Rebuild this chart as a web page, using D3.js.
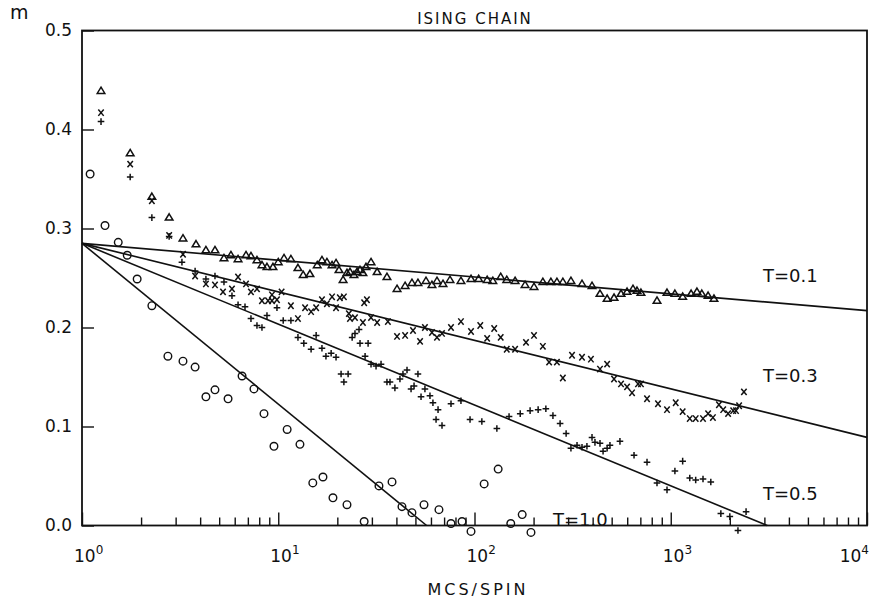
<!DOCTYPE html>
<html>
<head>
<meta charset="utf-8">
<script src="https://cdn.jsdelivr.net/npm/d3@7"></script>
<style>
  body { margin: 0; background: #fff; }
  text { font-family: "DejaVu Sans", "Liberation Sans", sans-serif; fill: #111; }
</style>
</head>
<body>
<svg id="chart"></svg>
<script>
// MCS/spin vs magnetisation m, one array per temperature
var triT01 = [
  [1.25,0.439],[1.76,0.376],[2.27,0.332],[2.78,0.311],[3.27,0.290],[3.81,0.284],[4.28,0.278],[4.76,0.278],
  [5.29,0.270],[5.74,0.273],[6.24,0.269],[6.85,0.273],[7.26,0.272],[7.79,0.268],[8.26,0.263],[8.76,0.261],
  [9.40,0.261],[10.0,0.266],[10.7,0.270],[11.6,0.269],[12.6,0.260],[13.4,0.253],[14.5,0.254],[15.8,0.263],
  [16.7,0.268],[17.7,0.266],[18.8,0.263],[19.7,0.265],[20.4,0.258],[21.4,0.248],[22.4,0.255],[23.2,0.256],
  [24.3,0.253],[25.2,0.256],[26.1,0.258],[27.0,0.255],[28.0,0.261],[29.7,0.266],[31.9,0.256],[35.8,0.251],
  [40.3,0.239],[44.3,0.242],[48.0,0.245],[51.5,0.245],[56.6,0.247],[60.7,0.243],[64.4,0.247],[69.1,0.244],
  [75.0,0.248],[85.3,0.247],[96.0,0.249],[105,0.249],[116,0.248],[124,0.247],[136,0.251],[146,0.248],
  [161,0.247],[181,0.243],[201,0.241],[223,0.246],[245,0.246],[263,0.246],[282,0.246],[310,0.247],
  [353,0.244],[397,0.242],[436,0.234],[474,0.229],[514,0.230],[558,0.234],[599,0.236],[642,0.239],
  [673,0.237],[705,0.235],[851,0.227],[957,0.235],[1050,0.234],[1150,0.231],[1270,0.234],[1360,0.236],
  [1440,0.234],[1550,0.232],[1660,0.229]
]

var crossT03 = [
  [1.25,0.417],[1.76,0.365],[2.27,0.328],[2.78,0.293],[3.27,0.274],[3.77,0.252],[4.28,0.244],[4.76,0.243],
  [5.23,0.236],[5.81,0.239],[6.24,0.251],[6.85,0.244],[7.26,0.236],[7.79,0.239],[8.26,0.227],[8.87,0.227],
  [9.29,0.227],[9.29,0.233],[9.85,0.228],[10.4,0.236],[11.6,0.222],[12.6,0.209],[13.7,0.220],[14.7,0.216],
  [15.6,0.220],[16.7,0.228],[17.7,0.224],[18.8,0.231],[19.7,0.220],[20.6,0.230],[21.6,0.231],[22.9,0.214],
  [23.2,0.209],[24.6,0.210],[27.0,0.205],[27.4,0.225],[28.3,0.228],[29.7,0.210],[31.9,0.205],[36.2,0.206],
  [40.3,0.191],[44.3,0.192],[48.6,0.197],[52.8,0.186],[55.9,0.200],[60.7,0.195],[64.4,0.190],[68.3,0.194],
  [75.9,0.200],[85.3,0.206],[96.0,0.196],[107,0.202],[116,0.189],[126,0.199],[136,0.190],[146,0.178],
  [161,0.178],[183,0.185],[201,0.192],[223,0.181],[240,0.165],[263,0.165],[282,0.149],[314,0.172],
  [353,0.170],[392,0.168],[436,0.158],[474,0.163],[514,0.148],[558,0.143],[599,0.140],[635,0.134],
  [681,0.143],[705,0.143],[757,0.128],[861,0.123],[957,0.117],[1060,0.124],[1150,0.115],[1250,0.108],
  [1340,0.108],[1460,0.108],[1550,0.113],[1640,0.109],[1760,0.122],[1850,0.117],[1960,0.113],[2080,0.116],
  [2150,0.116],[2230,0.121],[2360,0.135]
]

var plusT05 = [
  [1.25,0.408],[1.76,0.352],[2.27,0.311],[2.78,0.292],[3.23,0.266],[3.77,0.257],[4.28,0.249],[4.76,0.252],
  [5.29,0.246],[5.81,0.232],[6.24,0.223],[6.77,0.221],[7.26,0.209],[7.79,0.202],[8.26,0.200],[8.76,0.212],
  [9.85,0.220],[10.6,0.207],[11.6,0.207],[12.6,0.190],[13.5,0.184],[14.7,0.178],[15.6,0.192],[16.7,0.179],
  [17.5,0.171],[18.6,0.174],[19.7,0.170],[20.9,0.153],[21.6,0.145],[22.7,0.153],[23.8,0.190],[24.6,0.194],
  [25.8,0.198],[26.1,0.184],[27.7,0.171],[28.7,0.184],[29.7,0.163],[31.5,0.161],[33.4,0.163],[35.8,0.145],
  [37.1,0.145],[39.3,0.139],[41.7,0.148],[43.2,0.153],[45.3,0.157],[47.5,0.138],[49.2,0.141],[51.5,0.153],
  [53.4,0.130],[55.9,0.138],[59.3,0.131],[61.4,0.124],[63.7,0.107],[65.2,0.117],[68.3,0.101],[75.9,0.123],
  [85.3,0.126],[94.9,0.107],[109,0.105],[130,0.098],[150,0.110],[171,0.113],[192,0.116],[211,0.117],
  [231,0.118],[251,0.111],[273,0.103],[293,0.093],[310,0.078],[333,0.081],[353,0.079],[374,0.080],
  [397,0.089],[411,0.084],[436,0.083],[452,0.075],[474,0.078],[490,0.081],[551,0.085],[650,0.071],
  [757,0.064],[851,0.043],[957,0.036],[1050,0.055],[1150,0.065],[1250,0.048],[1340,0.046],[1460,0.047],
  [1600,0.044],[1800,0.012],[2000,0.009],[2200,-0.005],[2420,0.014]
]

var circT10 = [
  [1.10,0.355],[1.31,0.303],[1.53,0.286],[1.70,0.273],[1.91,0.249],[2.27,0.222],[2.74,0.171],[3.27,0.166],
  [3.77,0.160],[4.28,0.130],[4.76,0.137],[5.55,0.128],[6.54,0.151],[7.52,0.138],[8.46,0.113],[9.51,0.080],
  [11.1,0.097],[12.9,0.082],[15.0,0.043],[16.9,0.049],[19.0,0.028],[22.4,0.021],[27.4,0.004],[32.6,0.040],
  [38.0,0.044],[42.7,0.019],[48.0,0.013],[55.3,0.021],[65.9,0.016],[75.9,0.002],[86.4,0.004],[96.0,-0.006],
  [112,0.042],[132,0.057],[153,0.002],[175,0.011],[194,-0.007]
]

// straight fits on the semilog plot: from (1, m0) to (t1, m1)
var fitLines = [
  {name: 'T=0.1', m0: 0.285, t1: 10000, m1: 0.217},
  {name: 'T=0.3', m0: 0.285, t1: 10000, m1: 0.089},
  {name: 'T=0.5', m0: 0.285, t1: 3100, m1: 0},
  {name: 'T=1.0', m0: 0.285, t1: 57, m1: 0}
]

var curveLabels = [
  {text: 'T=0.1', t: 2950, m: 0.2455},
  {text: 'T=0.3', t: 2950, m: 0.145},
  {text: 'T=0.5', t: 2950, m: 0.026},
  {text: 'T=1.0', t: 251, m: 0.0}
]

var xMajor = [1, 10, 100, 1000, 10000]
var xExp = ['0', '1', '2', '3', '4']
var yTicks = [0, 0.1, 0.2, 0.3, 0.4, 0.5]

var W = 887, H = 599
var margin = {left: 82, top: 30.5, right: 20, bottom: 73.5}

var svg = d3.select('#chart').attr('width', W).attr('height', H)
svg.append('rect').attr('width', W).attr('height', H).attr('fill', '#fff')

var x = d3.scaleLog().domain([1, 10000]).range([margin.left, W - margin.right])
var y = d3.scaleLinear().domain([0, 0.5]).range([H - margin.bottom, margin.top])

// x axis: inward ticks, longer at the decades
var isMajor = function(d){ return Math.abs(Math.log10(d) - Math.round(Math.log10(d))) < 1e-9 }
var xg = svg.append('g')
  .attr('transform', 'translate(0,' + y(0) + ')')
  .call(d3.axisBottom(x).tickValues(x.ticks()).tickSizeInner(-8).tickSizeOuter(0).tickFormat(''))
xg.select('.domain').remove()
xg.selectAll('.tick line').attr('stroke', '#111').attr('stroke-width', 1.4)
  .filter(isMajor).attr('y2', -13)

xMajor.forEach(function(t, i){
  var last = i == xMajor.length - 1
  var lab = svg.append('text')
    .attr('x', last ? x(t) + 2 : x(t) - 8)
    .attr('y', y(0) + 36)
    .attr('text-anchor', last ? 'end' : 'start')
    .style('font-size', '17px')
  lab.append('tspan').text('10')
  lab.append('tspan').attr('dy', -8).style('font-size', '12px').text(xExp[i])
})

// y axis
var yg = svg.append('g')
  .attr('transform', 'translate(' + x(1) + ',0)')
  .call(d3.axisLeft(y).tickValues(yTicks).tickSizeInner(-12).tickSizeOuter(0).tickPadding(10).tickFormat(d3.format('.1f')))
yg.select('.domain').remove()
yg.selectAll('.tick line').attr('stroke', '#111').attr('stroke-width', 1.4)
yg.selectAll('.tick text').style('font-size', '17px').style('font-family', '"DejaVu Sans", sans-serif').attr('fill', '#111')

// frame
svg.append('rect')
  .attr('x', x(1)).attr('y', y(0.5))
  .attr('width', x(10000) - x(1)).attr('height', y(0) - y(0.5))
  .attr('fill', 'none').attr('stroke', '#111').attr('stroke-width', 1.8)

// fitted lines
var line = d3.line().x(function(d){ return x(d[0]) }).y(function(d){ return y(d[1]) })
svg.selectAll('path.fit').data(fitLines).enter().append('path')
  .attr('class', 'fit')
  .attr('d', function(d){ return line([[1, d.m0], [d.t1, d.m1]]) })
  .attr('fill', 'none').attr('stroke', '#111').attr('stroke-width', 1.6)

// markers
var shapes = {
  tri: 'M0,-3.8L3.8,2.5L-3.8,2.5Z',
  cross: 'M-2.7,-3.2L2.7,3.2M2.7,-3.2L-2.7,3.2',
  plus: 'M-3.3,0H3.3M0,-3.3V3.3'
}
function drawPoints(data, shape){
  svg.append('g').selectAll('path').data(data).enter().append('path')
    .attr('transform', function(d){ return 'translate(' + x(d[0]) + ',' + y(d[1]) + ')' })
    .attr('d', shapes[shape])
    .attr('fill', 'none').attr('stroke', '#111').attr('stroke-width', 1.5)
}
drawPoints(triT01, 'tri')
drawPoints(crossT03, 'cross')
drawPoints(plusT05, 'plus')

svg.append('g').selectAll('circle').data(circT10).enter().append('circle')
  .attr('cx', function(d){ return x(d[0]) })
  .attr('cy', function(d){ return y(d[1]) })
  .attr('r', 3.8)
  .attr('fill', 'none').attr('stroke', '#111').attr('stroke-width', 1.4)

// curve labels
svg.selectAll('text.curve').data(curveLabels).enter().append('text')
  .attr('class', 'curve')
  .attr('x', function(d){ return x(d.t) })
  .attr('y', function(d){ return y(d.m) })
  .style('font-size', '18px')
  .text(function(d){ return d.text })

// titles
svg.append('text').attr('x', 475).attr('y', 24).attr('text-anchor', 'middle')
  .style('font-size', '15px').style('letter-spacing', '2px').text('ISING CHAIN')
svg.append('text').attr('x', 478).attr('y', 595).attr('text-anchor', 'middle')
  .style('font-size', '16px').style('letter-spacing', '3px').text('MCS/SPIN')
svg.append('text').attr('x', 10).attr('y', 19)
  .style('font-size', '19px').text('m')
</script>
</body>
</html>
